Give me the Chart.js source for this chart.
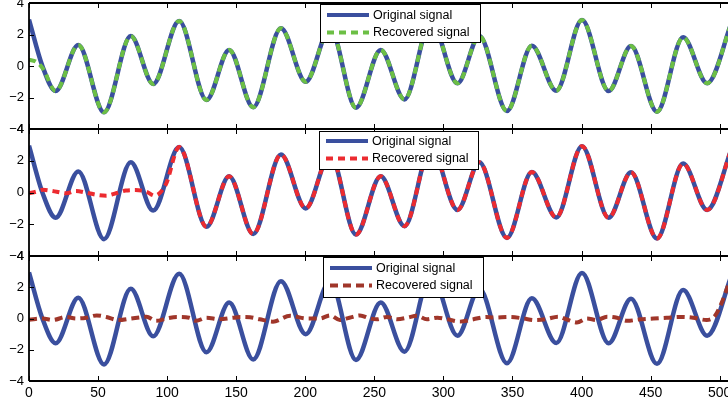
<!DOCTYPE html>
<html>
<head>
<meta charset="utf-8">
<script src="https://cdn.jsdelivr.net/npm/chart.js@4.4.1/dist/chart.umd.min.js"></script>
<style>
  html, body { margin: 0; padding: 0; background: #fff; }
  #wrap { position: relative; width: 728px; height: 403px; overflow: hidden; }
  #wrap canvas { position: absolute; left: 0; }
</style>
</head>
<body>
<div id="wrap">
  <canvas id="c1" width="728" height="140" style="top:0"></canvas>
  <canvas id="c2" width="728" height="145" style="top:120px"></canvas>
  <canvas id="c3" width="728" height="156" style="top:247px"></canvas>
</div>
<script>
// ---- data ----
// original signal: turning points (plus one crossing near the start)
const origX = [0, 9.7, 19.3, 35.7, 54.3, 73.7, 89.9, 108.7, 128.5, 144.9, 162.3, 182.4, 200.3, 218, 236.7,
  254.6, 271.8, 291, 310.2, 326, 346, 364, 381.7, 400.3, 419.6, 435.8, 454.6, 473.5, 490.9, 509];
const origY = [2.95, 0, -1.59, 1.33, -2.94, 1.9, -1.14, 2.86, -2.16, 1.02, -2.62, 2.39, -1.0, 2.4, -2.65,
  1.02, -2.12, 2.86, -1.1, 1.9, -2.86, 1.29, -1.57, 2.92, -1.59, 1.27, -2.9, 1.82, -1.1, 2.86];

// panel 1: recovered start, then it follows the original
const rec1HeadX = [0, 5, 10];
const rec1HeadY = [0.4, 0.28, -0.15];
const rec1JoinX = 10;

// panel 2: recovered stays near zero until ~100, then follows the original
const rec2HeadX = [0, 5, 10, 15, 20, 27, 34, 41, 49, 56, 63, 70, 77, 85, 91, 99];
const rec2HeadY = [-0.05, 0.05, 0.17, 0.12, 0.05, -0.05, 0.1, 0, -0.15, -0.2, -0.05, 0.12, 0.15, 0.05, -0.2, 0.5];
const rec2JoinX = 100;

// panel 3: recovered stays near zero nearly everywhere
const rec3X = [0, 10, 17, 27, 34, 41.5, 49, 56, 64.5, 74, 80, 85, 92, 99.5, 107, 116, 121, 128.5, 138, 148,
  153, 160, 167, 176.6, 189, 201, 210.6, 218, 225, 232, 239.6, 247, 252, 259, 266.6, 273.8, 280.7, 288,
  295.6, 302.8, 312, 321.7, 331, 336, 348, 358, 366, 374, 383, 389, 396.6, 404, 411, 418.4, 425.6, 433,
  442.7, 452, 461.6, 471, 480.8, 490.5, 496.6, 501.4, 506];
const rec3Y = [-0.08, 0, -0.1, 0.1, 0, 0.05, 0.2, 0.1, -0.1, 0, 0.07, 0.12, -0.15, 0, 0.1, 0.05, -0.15, 0.05,
  -0.05, 0.05, 0.1, 0.08, -0.05, -0.2, 0.17, 0, 0, 0.2, -0.1, 0.05, 0.2, 0, -0.05, 0.1, -0.05, 0.05, 0.17,
  -0.05, 0.05, -0.05, -0.2, -0.05, 0.1, 0.06, 0.1, 0, -0.1, -0.05, 0.12, -0.05, -0.25, 0, -0.1, 0.12, 0.05,
  -0.15, -0.05, 0, 0.05, 0.1, 0.05, -0.1, 0.17, 1.0, 2.1];

const xTicks = [0, 50, 100, 150, 200, 250, 300, 350, 400, 450, 500];
const yTicks = [-4, -2, 0, 2, 4];
const seriesNames = ['Original signal', 'Recovered signal'];

// ---- helpers ----
function pts(xs, ys) {
  return xs.map(function(x, i) { return { x: x, y: ys[i] }; });
}
function origAfter(x0) {
  return pts(origX, origY).filter(function(p) { return p.x > x0; });
}

const FONT = '"Liberation Sans", Arial, Helvetica, sans-serif';
const BLUE = '#3a4f9e';

// frame lines, inward ticks and the boxed legend
const framePlugin = {
  id: 'frame',
  afterDraw: function(chart, args, opts) {
    const ctx = chart.ctx;
    const a = chart.chartArea;
    const xs = chart.scales.x, ys = chart.scales.y;
    ctx.save();
    ctx.strokeStyle = '#000';
    ctx.lineWidth = 1.8;
    ctx.beginPath();
    ctx.moveTo(a.left, a.top); ctx.lineTo(a.right, a.top);
    ctx.moveTo(a.left, a.bottom); ctx.lineTo(a.right, a.bottom);
    ctx.moveTo(a.left, a.top); ctx.lineTo(a.left, a.bottom);
    ctx.stroke();
    ctx.lineWidth = 1;
    ctx.beginPath();
    xTicks.forEach(function(v) {
      const px = Math.round(xs.getPixelForValue(v)) + 0.5;
      ctx.moveTo(px, a.top); ctx.lineTo(px, a.top + 5);
      ctx.moveTo(px, a.bottom); ctx.lineTo(px, a.bottom - 5);
    });
    yTicks.forEach(function(v) {
      const py = Math.round(ys.getPixelForValue(v)) + 0.5;
      ctx.moveTo(a.left, py); ctx.lineTo(a.left + 5, py);
    });
    ctx.stroke();

    // legend box
    const bx = opts.x, by = a.top + opts.dy, bw = opts.w, bh = opts.h;
    ctx.fillStyle = '#fff';
    ctx.fillRect(bx, by, bw, bh);
    ctx.lineWidth = 1;
    ctx.strokeStyle = '#000';
    ctx.strokeRect(bx + 0.5, by + 0.5, bw, bh);
    const ds = chart.data.datasets;
    [0, 1].forEach(function(i) {
      const d = ds[i];
      const ry = by + opts.row0 + i * 17.5;
      ctx.save();
      ctx.strokeStyle = d.borderColor;
      ctx.lineWidth = 4;
      ctx.setLineDash(d.borderDash || []);
      ctx.beginPath();
      ctx.moveTo(bx + 7, ry); ctx.lineTo(bx + 49, ry);
      ctx.stroke();
      ctx.restore();
      ctx.fillStyle = '#000';
      ctx.font = '12.5px ' + FONT;
      ctx.textBaseline = 'middle';
      ctx.fillText(d.label, bx + 53, ry + 0.5);
    });
    ctx.restore();
  }
};

function makePanel(id, recPoints, recColor, recDash, padTop, padBottom, showX, legend) {
  return new Chart(document.getElementById(id), {
    type: 'line',
    data: {
      datasets: [
        {
          label: seriesNames[0],
          data: pts(origX, origY),
          borderColor: BLUE,
          borderWidth: 4.5,
          order: 1
        },
        {
          label: seriesNames[1],
          data: recPoints,
          borderColor: recColor,
          borderWidth: 4,
          borderDash: recDash,
          order: 0
        }
      ]
    },
    options: {
      responsive: false,
      devicePixelRatio: 1,
      animation: false,
      events: [],
      layout: { padding: { left: 0, right: 0, top: padTop, bottom: padBottom } },
      elements: {
        point: { radius: 0 },
        line: { cubicInterpolationMode: 'monotone', borderCapStyle: 'butt', borderJoinStyle: 'round' }
      },
      datasets: { line: { clip: 0 } },
      plugins: {
        legend: { display: false },
        tooltip: { enabled: false },
        frame: legend
      },
      scales: {
        x: {
          type: 'linear',
          min: 0,
          max: 506,
          display: showX,
          grid: { display: false, drawTicks: false },
          border: { display: false },
          ticks: {
            stepSize: 50,
            includeBounds: false,
            padding: 4,
            color: '#000',
            font: { family: FONT, size: 14 }
          },
          afterFit: function(s) {
            s.height = showX ? 22 : 0;
            s.paddingLeft = 0; s.paddingRight = 0;
          }
        },
        y: {
          min: -4,
          max: 4,
          grid: { display: false, drawTicks: false },
          border: { display: false },
          ticks: {
            stepSize: 2,
            padding: 5,
            color: '#000',
            font: { family: FONT, size: 13 },
            callback: function(v) { return v < 0 ? '\u2212' + Math.abs(v) : String(v); }
          },
          afterFit: function(s) {
            s.width = 29;
            s.paddingTop = 0; s.paddingBottom = 0;
          }
        }
      }
    },
    plugins: [framePlugin]
  });
}

makePanel('c1', pts(rec1HeadX, rec1HeadY).concat(origAfter(rec1JoinX)), '#6cbf45', [7, 5], 3, 11, false,
  { x: 320, dy: 1, w: 160, h: 38, row0: 11 });
makePanel('c2', pts(rec2HeadX, rec2HeadY).concat(origAfter(rec2JoinX)), '#ec2b30', [7, 5], 9, 9, false,
  { x: 319, dy: 2, w: 159, h: 38, row0: 10 });
makePanel('c3', pts(rec3X, rec3Y), '#a0362a', [8, 5], 9, 0, true,
  { x: 323, dy: 1, w: 160, h: 40, row0: 11 });
</script>
</body>
</html>
